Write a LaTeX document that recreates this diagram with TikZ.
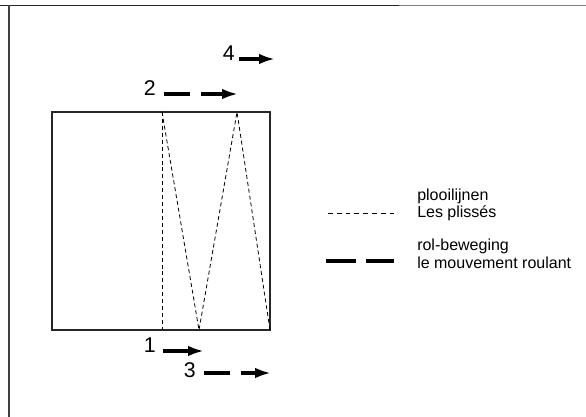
\documentclass[tikz,border=0pt]{standalone}
\usepackage{fontspec}
\setmainfont{Liberation Sans}
\usetikzlibrary{arrows.meta}
\tikzstyle{num} = [inner sep=0pt, font=\fontsize{16}{18}\selectfont]
\tikzstyle{legend} = [inner sep=0pt, anchor=base west,
  font=\fontsize{12}{14}\selectfont]
\tikzstyle{fold} = [line width=0.6pt, dash pattern=on 3pt off 2.2pt]
\tikzstyle{roll} = [line width=3pt]
\tikzstyle{arrow} = [line width=3pt, -{Latex[length=12pt,width=8pt]}]

\begin{document}
\begin{tikzpicture}[x=0.75pt, y=-0.75pt]
\useasboundingbox (0,0) rectangle (586,417);

%% frame
\draw [line width=1pt, black!85] (0,5.5) -- (399,5.5);
\draw [line width=0.8pt, black!50] (399,5.5) -- (586,5.5);
\draw [line width=0.9pt, black!75] (9,5.5) -- (9,417);

%% sheet
\coordinate (tl) at (52,112);
\coordinate (br) at (270,330);
\coordinate (foldA) at (162,112);
\coordinate (foldB) at (162,330);
\coordinate (foldC) at (199,330);
\coordinate (foldD) at (237,112);
\draw [line width=0.8pt, black!85] (tl) rectangle (br);
\draw [fold] (foldA) -- (foldB);
\draw [fold] (foldA) -- (foldC) -- (foldD) -- (br);

%% numbers
\node (n4) [num, anchor=base east] at (235,61) {4};
\node (n2) [num, anchor=base east] at (156,96) {2};
\node (n1) [num, anchor=base east] at (156,353) {1};
\node (n3) [num, anchor=base east] at (196,378) {3};

%% moves
\coordinate (e4) at (275,59);
\coordinate (m2a) at (190,94);
\coordinate (m2b) at (201,94);
\coordinate (e2) at (238,94);
\coordinate (e1) at (204,351);
\coordinate (m3a) at (230,373);
\coordinate (m3b) at (241,373);
\coordinate (e3) at (271,373);
\draw [arrow] ([xshift=3]n4.base east) ++(0,-2) -- (e4);
\draw [roll] ([xshift=6]n2.base east) ++(0,-2) -- (m2a);
\draw [arrow] (m2b) -- (e2);
\draw [arrow] ([xshift=5]n1.base east) ++(0,-2) -- (e1);
\draw [roll] ([xshift=6]n3.base east) ++(0,-5) -- (m3a);
\draw [arrow] (m3b) -- (e3);

%% legend
\coordinate (la) at (328,213.5);
\coordinate (lb) at (398,213.5);
\coordinate (lc) at (326,261);
\coordinate (ld) at (394,261);
\draw [fold, dash pattern=on 3.6pt off 3pt] (la) -- (lb);
\draw [roll, dash pattern=on 22.5pt off 7.5pt] (lc) -- (ld);
\node (plooi) [legend] at (417,201) {plooilijnen};
\node (pliss) [legend] at (417,218) {Les plissés};
\node (rol) [legend] at (417,251) {rol-beweging};
\node (roul) [legend] at (417,268) {le mouvement roulant};

\end{tikzpicture}
\end{document}
